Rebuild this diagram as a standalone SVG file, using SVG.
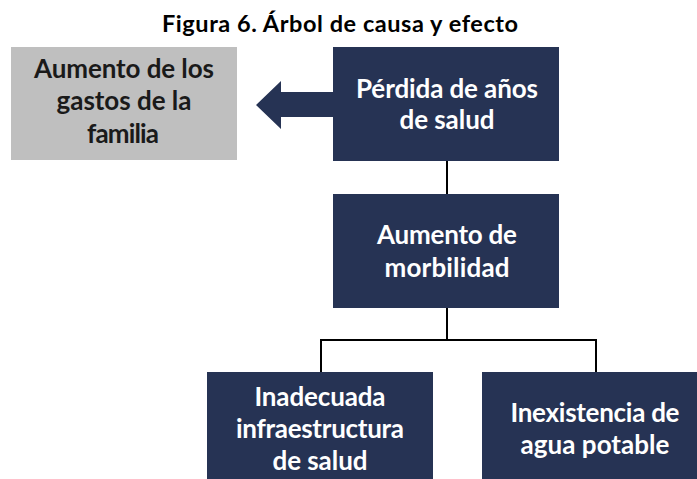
<svg xmlns="http://www.w3.org/2000/svg" width="697" height="479" viewBox="0 0 697 479">
<style>
.title{font-family:"Lato","Open Sans","Liberation Sans",sans-serif;font-weight:bold;font-size:23.5px;fill:#000;text-anchor:middle}
.dk{fill:#263354}
.gr{fill:#bfbfbf}
.tw{font-family:"Lato","Open Sans","Liberation Sans",sans-serif;font-weight:bold;font-size:26px;fill:#fff;text-anchor:middle}
.tb{font-family:"Lato","Open Sans","Liberation Sans",sans-serif;font-weight:bold;font-size:26px;fill:#1a1a1a;text-anchor:middle}
.ln{stroke:#000;stroke-width:2;fill:none}
</style>
<rect width="697" height="479" fill="#fff"/>
<text class="title" x="340" y="32" textLength="356" lengthAdjust="spacing">Figura 6. Árbol de causa y efecto</text>
<g id="connectors">
<path class="ln" d="M447 161V194M447 308V340M321 372V340H596V372"/>
<polygon class="dk" points="334,92 281,92 281,81 256,105 281,129 281,117 334,117"/>
</g>
<g id="gastos">
<rect class="gr" x="11" y="47" width="226" height="113"/>
<text class="tb" x="124" y="78" textLength="180" lengthAdjust="spacing">Aumento de los</text>
<text class="tb" x="124" y="110" textLength="135" lengthAdjust="spacing">gastos de la</text>
<text class="tb" x="123" y="143" textLength="72" lengthAdjust="spacing">familia</text>
</g>
<g id="perdida">
<rect class="dk" x="333" y="47" width="226" height="114"/>
<text class="tw" x="447" y="98" textLength="182" lengthAdjust="spacing">Pérdida de años</text>
<text class="tw" x="447" y="129" textLength="95" lengthAdjust="spacing">de salud</text>
</g>
<g id="morbilidad">
<rect class="dk" x="333" y="194" width="226" height="114"/>
<text class="tw" x="447" y="244" textLength="140" lengthAdjust="spacing">Aumento de</text>
<text class="tw" x="447" y="277" textLength="125" lengthAdjust="spacing">morbilidad</text>
</g>
<g id="infraestructura">
<rect class="dk" x="207" y="372" width="226" height="110"/>
<text class="tw" x="320" y="406" textLength="131" lengthAdjust="spacing">Inadecuada</text>
<text class="tw" x="320" y="438" textLength="168" lengthAdjust="spacing">infraestructura</text>
<text class="tw" x="320" y="470" textLength="95" lengthAdjust="spacing">de salud</text>
</g>
<g id="agua">
<rect class="dk" x="482" y="372" width="230" height="110"/>
<text class="tw" x="595" y="422" textLength="169" lengthAdjust="spacing">Inexistencia de</text>
<text class="tw" x="595" y="454" textLength="149" lengthAdjust="spacing">agua potable</text>
</g>
</svg>
